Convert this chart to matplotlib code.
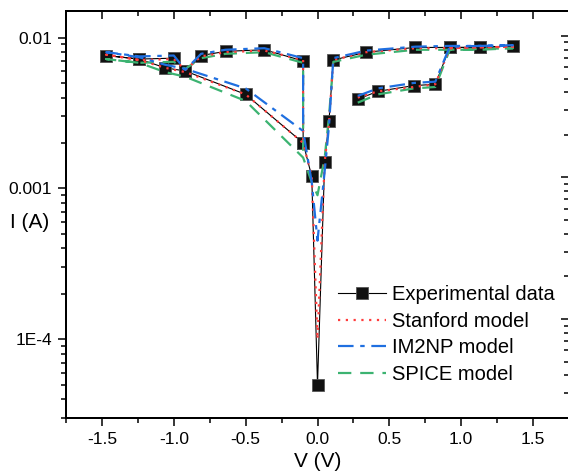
import matplotlib
matplotlib.use("Agg")
import matplotlib.pyplot as plt
from matplotlib.ticker import LogLocator, NullFormatter, FixedLocator, MultipleLocator

plt.rcParams["font.family"] = ["Liberation Sans", "DejaVu Sans"]

# Datos: voltaje (V) y corriente (A), recorrido del ciclo en orden
voltaje = [0.28, 0.42, 0.67, 0.82, 0.92, 1.13, 1.36, 1.13, 0.92, 0.68, 0.34, 0.11, 0.08, 0.05, 0.00,
           -0.04, -0.10, -0.50, -0.92, -1.06, -1.24, -1.47, -1.24, -1.00, -0.92, -0.81, -0.64, -0.37,
           -0.10, -0.10]
i_experimental = [0.0039, 0.0044, 0.0048, 0.0049, 0.0086, 0.0086, 0.0088, 0.0086, 0.0086, 0.0086,
                  0.0080, 0.0071, 0.0028, 0.0015, 5.0e-5, 0.0012, 0.0020, 0.0042, 0.0060, 0.0063,
                  0.0072, 0.0076, 0.0072, 0.0073, 0.0060, 0.0076, 0.0081, 0.0083, 0.0070, 0.0020]
i_stanford = [0.0040, 0.0044, 0.0047, 0.0049, 0.0085, 0.0086, 0.0087, 0.0086, 0.0085, 0.0085,
              0.0080, 0.0071, 0.0027, 0.0015, 1.0e-4, 0.0012, 0.0020, 0.0042, 0.0059, 0.0063,
              0.0071, 0.0077, 0.0071, 0.0072, 0.0061, 0.0075, 0.0080, 0.0082, 0.0071, 0.0020]
i_im2np = [0.0041, 0.0046, 0.0050, 0.0051, 0.0087, 0.0088, 0.0089, 0.0088, 0.0088, 0.0087,
           0.0082, 0.0073, 0.0026, 0.0013, 4.5e-4, 0.0011, 0.0024, 0.0046, 0.0062, 0.0066,
           0.0074, 0.0080, 0.0075, 0.0076, 0.0061, 0.0078, 0.0083, 0.0085, 0.0073, 0.0024]
i_spice = [0.0037, 0.0042, 0.0046, 0.0047, 0.0083, 0.0084, 0.0085, 0.0083, 0.0083, 0.0083,
           0.0077, 0.0069, 0.0030, 0.0016, 9.0e-4, 0.0011, 0.0016, 0.0038, 0.0055, 0.0059,
           0.0068, 0.0072, 0.0068, 0.0069, 0.0062, 0.0073, 0.0078, 0.0080, 0.0068, 0.0016]

ticks_x = [-1.5, -1.0, -0.5, 0.0, 0.5, 1.0, 1.5]
etiquetas_x = ["-1.5", "-1.0", "-0.5", "0.0", "0.5", "1.0", "1.5"]
ticks_y = [1e-4, 1e-3, 1e-2]
etiquetas_y = ["1E-4", "0.001", "0.01"]

fig = plt.figure(figsize=(5.68, 4.72), dpi=100)
ax = fig.add_axes([66 / 568, 54 / 472, 503 / 568, 407 / 472])

# Datos experimentales y modelos
l_exp, = ax.plot(voltaje, i_experimental, color="black", lw=0.8, marker="s", ms=8.5,
                 mfc="#111111", mec="#555555", mew=0.6, label="Experimental data", zorder=2)
l_spice, = ax.plot(voltaje, i_spice, color="#3cb371", lw=1.6, ls=(0, (6, 4)),
                   label="SPICE model", zorder=3)
l_stan, = ax.plot(voltaje, i_stanford, color="#ff3b3b", lw=1.6, ls=(0, (1, 2.5)),
                  label="Stanford model", zorder=4)
l_im2, = ax.plot(voltaje, i_im2np, color="#1f6fe0", lw=1.6, ls=(0, (7, 3, 2, 3)),
                 label="IM2NP model", zorder=5)

ax.set_yscale("log")
ax.set_xlim(-1.75, 1.75)
ax.set_ylim(3e-5, 0.015)

ax.set_xticks(ticks_x)
ax.set_xticklabels(etiquetas_x)
ax.xaxis.set_minor_locator(MultipleLocator(0.25))
ax.yaxis.set_major_locator(FixedLocator(ticks_y))
ax.set_yticklabels(etiquetas_y)
ax.yaxis.set_minor_locator(LogLocator(base=10, subs=range(2, 10)))
ax.yaxis.set_minor_formatter(NullFormatter())

ax.tick_params(axis="both", which="major", direction="out", length=6, width=1.1,
               labelsize=12.5, pad=4)
ax.tick_params(axis="both", which="minor", direction="out", length=3.5, width=1.1)

# ticks superiores hacia adentro (eje gemelo)
axt = ax.twiny()
axt.set_xlim(ax.get_xlim())
axt.xaxis.set_major_locator(MultipleLocator(0.5))
axt.xaxis.set_minor_locator(MultipleLocator(0.25))
axt.tick_params(axis="x", which="major", direction="in", length=6, width=1.1, labeltop=False)
axt.tick_params(axis="x", which="minor", direction="in", length=3.5, width=1.1)

# eje derecho con su propia escala
axr = ax.twinx()
axr.set_yscale("log")
axr.set_ylim(2e-5, 0.015)
axr.yaxis.set_major_locator(FixedLocator(ticks_y))
axr.yaxis.set_minor_locator(LogLocator(base=10, subs=range(2, 10)))
axr.yaxis.set_minor_formatter(NullFormatter())
axr.tick_params(axis="y", which="major", direction="in", length=6, width=1.1, labelright=False)
axr.tick_params(axis="y", which="minor", direction="in", length=3.5, width=1.1)

for a in (ax, axt, axr):
    for s in a.spines.values():
        s.set_linewidth(1.3)

ax.set_xlabel("V (V)", fontsize=15, labelpad=4)
# etiqueta del eje y horizontal, debajo de 0.001
fig.text(30 / 568, 1 - 222 / 472, "I (A)", fontsize=15, ha="center", va="center")

ax.legend(handles=[l_exp, l_stan, l_im2, l_spice], loc="upper left",
          bbox_to_anchor=(338 / 568, 1 - 285 / 472), bbox_transform=fig.transFigure,
          frameon=False, fontsize=14.5, handlelength=2.4, handletextpad=0.3,
          labelspacing=0.38, borderpad=0, borderaxespad=0, numpoints=1)

fig.savefig("out.png", dpi=100)
